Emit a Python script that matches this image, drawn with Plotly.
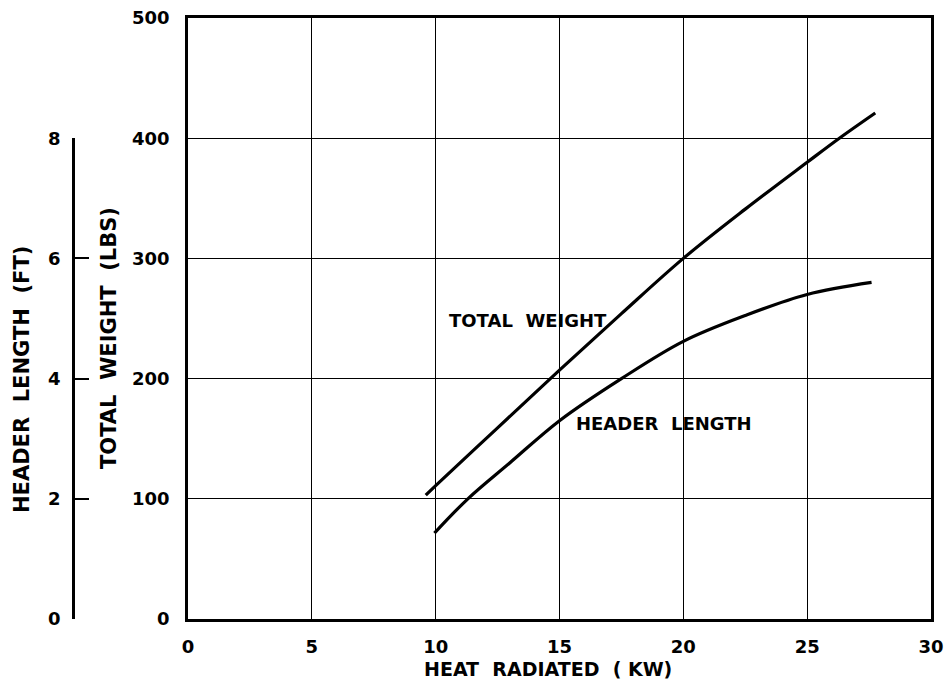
import plotly.graph_objects as go

# Data
weight_x = [9.6, 10.0, 12.5, 15.0, 17.5, 20.0, 22.5, 25.0, 26.3, 27.75]
weight_lbs = [103, 111, 159, 207, 254, 300, 341, 380, 400, 421]

header_x = [9.95, 11.3, 13.0, 15.0, 17.5, 20.0, 22.5, 25.0, 27.6]
header_ft = [1.43, 2.0, 2.6, 3.3, 4.0, 4.62, 5.05, 5.4, 5.6]

x_ticks = [0, 5, 10, 15, 20, 25, 30]
weight_ticks = [0, 100, 200, 300, 400, 500]
header_ticks = [0, 2, 4, 6, 8]

FONT = "DejaVu Sans"
W, H = 947, 685
ML, MR, MT, MB = 73, 16, 18, 66
PW = W - ML - MR
PH = H - MT - MB
x_dom_start = (188 - ML) / PW


def px(page_x):
    return (page_x - ML) / PW


def py(page_y):
    return (H - MB - page_y) / PH


fig = go.Figure()
fig.add_trace(go.Scatter(x=weight_x, y=weight_lbs, mode="lines",
                         line=dict(color="black", width=3.2, shape="spline"),
                         xaxis="x", yaxis="y", showlegend=False, hoverinfo="skip"))
fig.add_trace(go.Scatter(x=header_x, y=header_ft, mode="lines",
                         line=dict(color="black", width=3.2, shape="spline"),
                         xaxis="x", yaxis="y2", showlegend=False, hoverinfo="skip"))

tickfont = dict(family=FONT, size=18, weight="bold", color="black")

fig.update_layout(
    width=W, height=H,
    margin=dict(l=ML, r=MR, t=MT, b=MB, autoexpand=False),
    paper_bgcolor="white", plot_bgcolor="rgba(0,0,0,0)",
    font=dict(family=FONT, color="black", size=15),
    xaxis=dict(domain=[x_dom_start, 1], range=[0, 30], tickvals=x_ticks, showgrid=True, gridcolor="black",
               gridwidth=1.4, zeroline=False, showline=True, linecolor="black", linewidth=2.5, mirror=True,
               ticks="", tickfont=tickfont, anchor="y", ticklabelstandoff=10, automargin=False,
               ticklabeloverflow="allow"),
    yaxis=dict(domain=[0, 1], range=[0, 500], tickvals=weight_ticks, showgrid=True, gridcolor="black",
               gridwidth=1.4, zeroline=False, showline=True, linecolor="black", linewidth=2.5, mirror=True,
               ticks="", tickfont=tickfont, anchor="x", ticklabelstandoff=12, automargin=False,
               ticklabeloverflow="allow"),
    yaxis2=dict(domain=[0, 0.8], range=[0, 8], tickvals=header_ticks, anchor="free", position=0, side="left",
                showgrid=False, zeroline=False, showline=True, linecolor="black", linewidth=2.5,
                ticks="inside", ticklen=14, tickwidth=2, tickcolor="black", tickfont=tickfont,
                ticklabelstandoff=8, automargin=False, ticklabeloverflow="allow"),
)

fig.add_annotation(text="TOTAL  WEIGHT  (LBS)", xref="paper", yref="paper", x=px(109), y=py(338),
                   textangle=-90, showarrow=False, font=dict(size=21, weight="bold"),
                   xanchor="center", yanchor="middle")
fig.add_annotation(text="HEADER  LENGTH  (FT)", xref="paper", yref="paper", x=px(22), y=py(380),
                   textangle=-90, showarrow=False, font=dict(size=21, weight="bold"),
                   xanchor="center", yanchor="middle")
fig.add_annotation(text="HEAT  RADIATED  ( KW)", xref="paper", yref="paper", x=px(548), y=py(669),
                   showarrow=False, font=dict(size=19, weight="bold"),
                   xanchor="center", yanchor="middle")
fig.add_annotation(text="TOTAL  WEIGHT", x=10.45, y=248, xref="x", yref="y", showarrow=False,
                   xanchor="left", yanchor="middle", font=dict(size=18, weight="bold"))
fig.add_annotation(text="HEADER  LENGTH", x=15.6, y=163, xref="x", yref="y", showarrow=False,
                   xanchor="left", yanchor="middle", font=dict(size=18, weight="bold"))

fig.write_html("out.html", config={"displayModeBar": False},
               post_script="document.body.style.margin='0px';document.body.style.overflow='hidden';")
